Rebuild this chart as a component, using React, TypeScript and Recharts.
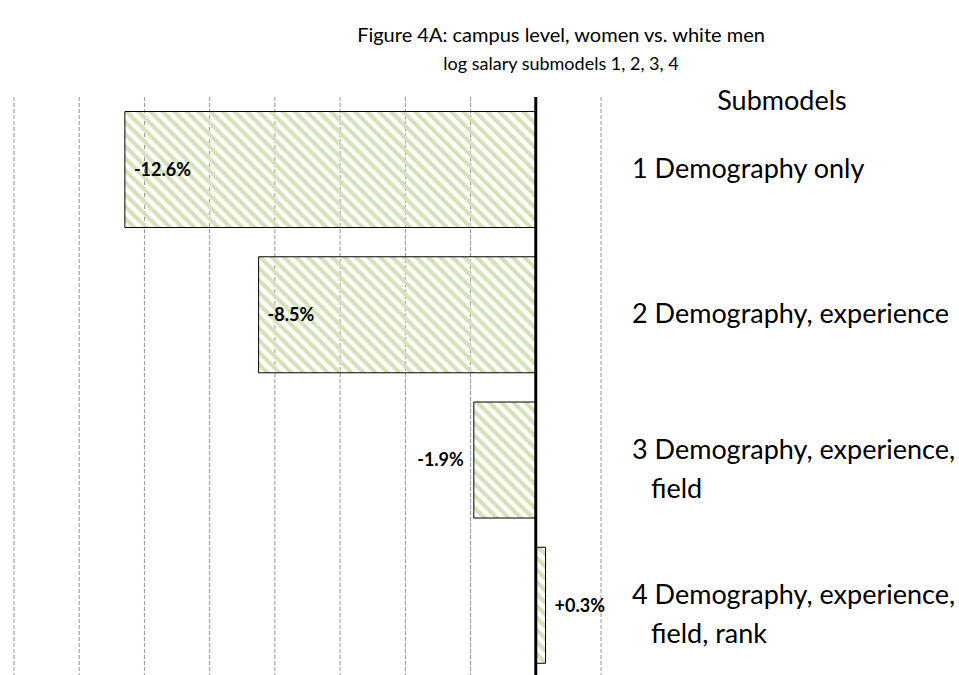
import { BarChart, Bar, XAxis, YAxis, CartesianGrid, ReferenceLine, LabelList } from "recharts";

const submodels = [
  "1 Demography only",
  "2 Demography, experience",
  "3 Demography, experience,\nfield",
  "4 Demography, experience,\nfield, rank",
];
const gapPct = [-12.6, -8.5, -1.9, 0.3];
const gapLabels = ["-12.6%", "-8.5%", "-1.9%", "+0.3%"];
const xTicks = [-16, -14, -12, -10, -8, -6, -4, -2, 0, 2];

const data = submodels.map((name, i) => ({ name, value: gapPct[i], label: gapLabels[i] }));

const FONT = "Lato, 'Open Sans', sans-serif";

function SubmodelTick(props: any) {
  const { x, y, payload } = props;
  const lines = String(payload.value).split("\n");
  const firstY = lines.length > 1 ? y - 1 : y + 8;
  return (
    <g>
      {lines.map((line, i) => (
        <text
          key={i}
          x={x + 23 + (i > 0 ? 19 : 0)}
          y={firstY + i * 39}
          fontFamily={FONT}
          fontSize={27}
          fill="#000"
        >
          {line}
        </text>
      ))}
    </g>
  );
}

function GapLabel(props: any) {
  const { x, y, width, height, index } = props;
  const left = Math.min(x, x + width);
  const right = Math.max(x, x + width);
  const value = gapPct[index];
  let tx = left + 9;
  let anchor: "start" | "end" = "start";
  if (Math.abs(width) < 100) {
    if (value < 0) {
      tx = left - 10;
      anchor = "end";
    } else {
      tx = right + 9;
    }
  }
  return (
    <text
      x={tx}
      y={y + height / 2}
      dy="0.35em"
      textAnchor={anchor}
      fontFamily={FONT}
      fontWeight={700}
      fontSize={18}
      fill="#000"
    >
      {gapLabels[index]}
    </text>
  );
}

export default function App() {
  return (
    <div style={{ position: "absolute", top: 0, left: 0, width: 959, height: 675, overflow: "hidden", background: "#fff" }}>
      <svg width={0} height={0} style={{ position: "absolute" }}>
        <defs>
          <pattern id="hatch" patternUnits="userSpaceOnUse" width={8.5} height={8.5} patternTransform="rotate(-45)">
            <rect x={0} y={0} width={4.2} height={8.5} fill="#d5e2b8" />
          </pattern>
        </defs>
      </svg>
      <div style={{ position: "absolute", left: 0, width: 1122, top: 21, textAlign: "center", fontFamily: FONT, fontSize: 20, lineHeight: "26px", color: "#000" }}>
        Figure 4A: campus level, women vs. white men
      </div>
      <div style={{ position: "absolute", left: 0, width: 1122, top: 51, textAlign: "center", fontFamily: FONT, fontSize: 18, lineHeight: "24px", color: "#000" }}>
        log salary submodels 1, 2, 3, 4
      </div>
      <div style={{ position: "absolute", left: 682, width: 200, top: 83, textAlign: "center", fontFamily: FONT, fontSize: 27, lineHeight: "34px", color: "#000" }}>
        Submodels
      </div>
      <BarChart
        width={959}
        height={690}
        data={data}
        layout="vertical"
        margin={{ top: 97, right: 0, bottom: 12, left: 14 }}
        barCategoryGap="10%"
      >
        <CartesianGrid horizontal={false} stroke="#959595" strokeDasharray="4 2" />
        <XAxis type="number" domain={[-16, 2]} ticks={xTicks} hide />
        <YAxis
          type="category"
          dataKey="name"
          orientation="right"
          width={358}
          axisLine={false}
          tickLine={false}
          tick={<SubmodelTick />}
        />
        <Bar dataKey="value" fill="url(#hatch)" stroke="#000" strokeWidth={1} isAnimationActive={false}>
          <LabelList dataKey="label" content={<GapLabel />} />
        </Bar>
        <ReferenceLine x={0} stroke="#000" strokeWidth={3} />
      </BarChart>
    </div>
  );
}
